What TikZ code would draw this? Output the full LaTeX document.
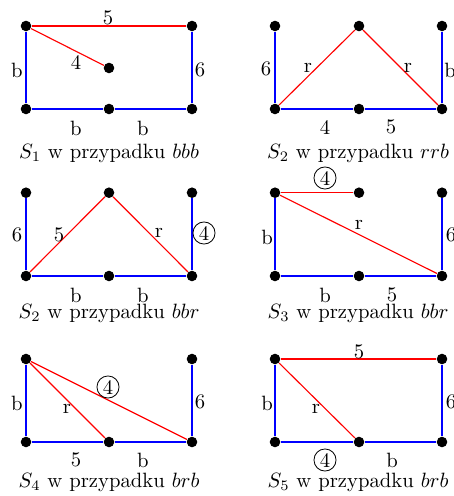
\documentclass[tikz,border=0pt]{standalone}
\begin{document}
\begin{tikzpicture}[x=0.483pt,y=-0.483pt,
  dot/.style={circle,fill=black,inner sep=0pt,minimum size=5.1pt},
  be/.style={blue,line width=0.55pt},
  re/.style={red,line width=0.55pt},
  lab/.style={inner sep=0pt},
  cl/.style={circle,draw,inner sep=0.8pt,line width=0.4pt},
  captext/.style={inner sep=0pt}]
\useasboundingbox (0,0) rectangle (453,496);
% ---------- panel 1
\node[dot] (a1) at (26,26) {};
\node[dot] (a2) at (192,26) {};
\node[dot] (a3) at (109,68) {};
\node[dot] (a4) at (26,109) {};
\node[dot] (a5) at (109,109) {};
\node[dot] (a6) at (192,109) {};
\draw[re] (a1) -- (a2);
\draw[re] (a1) -- (a3);
\draw[be] (a1) -- (a4);
\draw[be] (a2) -- (a6);
\draw[be] (a4) -- (a5);
\draw[be] (a5) -- (a6);
\node[lab] (la1) at (108,18) {5};
\node[lab] (la2) at (76,62) {4};
\node[lab] (la3) at (17,70) {b};
\node[lab] (la4) at (200,70) {6};
\node[lab] (la5) at (76,128) {b};
\node[lab] (la6) at (143,128) {b};
\node[captext] (ca) at (109,153) {$S_1$ w przypadku $bbb$};
% ---------- panel 2
\node[dot] (b1) at (275,26) {};
\node[dot] (b2) at (359,26) {};
\node[dot] (b3) at (442,26) {};
\node[dot] (b4) at (275,109) {};
\node[dot] (b5) at (359,109) {};
\node[dot] (b6) at (442,109) {};
\draw[be] (b1) -- (b4);
\draw[re] (b4) -- (b2);
\draw[re] (b2) -- (b6);
\draw[be] (b3) -- (b6);
\draw[be] (b4) -- (b5);
\draw[be] (b5) -- (b6);
\node[lab] (lb1) at (266,69) {6};
\node[lab] (lb2) at (308,68) {r};
\node[lab] (lb3) at (408,68) {r};
\node[lab] (lb4) at (450,70) {b};
\node[lab] (lb5) at (325,127) {4};
\node[lab] (lb6) at (391,127) {5};
\node[captext] (cb) at (358,153) {$S_2$ w przypadku $rrb$};
% ---------- panel 3
\node[dot] (c1) at (26,192.7) {};
\node[dot] (c2) at (109,192.7) {};
\node[dot] (c3) at (192,192.7) {};
\node[dot] (c4) at (26,276) {};
\node[dot] (c5) at (109,276) {};
\node[dot] (c6) at (192,276) {};
\draw[be] (c1) -- (c4);
\draw[re] (c4) -- (c2);
\draw[re] (c2) -- (c6);
\draw[be] (c3) -- (c6);
\draw[be] (c4) -- (c5);
\draw[be] (c5) -- (c6);
\node[lab] (lc1) at (17,235) {6};
\node[lab] (lc2) at (59,235) {5};
\node[lab] (lc3) at (159,233) {r};
\node[cl] (lc4) at (204,233) {4};
\node[lab] (lc5) at (76,295) {b};
\node[lab] (lc6) at (143,295) {b};
\node[captext] (cc) at (109,313) {$S_2$ w przypadku $bbr$};
% ---------- panel 4
\node[dot] (d1) at (275,192.7) {};
\node[dot] (d2) at (359,192.7) {};
\node[dot] (d3) at (442,192.7) {};
\node[dot] (d4) at (275,276) {};
\node[dot] (d5) at (359,276) {};
\node[dot] (d6) at (442,276) {};
\draw[re] (d1) -- (d2);
\draw[re] (d1) -- (d6);
\draw[be] (d1) -- (d4);
\draw[be] (d3) -- (d6);
\draw[be] (d4) -- (d5);
\draw[be] (d5) -- (d6);
\node[cl] (ld1) at (325,178) {4};
\node[lab] (ld2) at (359,225) {r};
\node[lab] (ld3) at (267,237) {b};
\node[lab] (ld4) at (451,235) {6};
\node[lab] (ld5) at (325,295) {b};
\node[lab] (ld6) at (392,295) {5};
\node[captext] (cd) at (358,313) {$S_3$ w przypadku $bbr$};
% ---------- panel 5
\node[dot] (e1) at (26,359) {};
\node[dot] (e3) at (192,359) {};
\node[dot] (e4) at (26,442) {};
\node[dot] (e5) at (109,442) {};
\node[dot] (e6) at (192,442) {};
\draw[be] (e1) -- (e4);
\draw[re] (e1) -- (e5);
\draw[re] (e1) -- (e6);
\draw[be] (e3) -- (e6);
\draw[be] (e4) -- (e5);
\draw[be] (e5) -- (e6);
\node[lab] (le1) at (17,403) {b};
\node[lab] (le2) at (67,409) {r};
\node[cl] (le3) at (108,387) {4};
\node[lab] (le4) at (200,402) {6};
\node[lab] (le5) at (76,460) {5};
\node[lab] (le6) at (143,460) {b};
\node[captext] (ce) at (109,482) {$S_4$ w przypadku $brb$};
% ---------- panel 6
\node[dot] (f1) at (275,359) {};
\node[dot] (f3) at (442,359) {};
\node[dot] (f4) at (275,442) {};
\node[dot] (f5) at (359,442) {};
\node[dot] (f6) at (442,442) {};
\draw[re] (f1) -- (f3);
\draw[be] (f1) -- (f4);
\draw[re] (f1) -- (f5);
\draw[be] (f3) -- (f6);
\draw[be] (f4) -- (f5);
\draw[be] (f5) -- (f6);
\node[lab] (lf1) at (359,352) {5};
\node[lab] (lf2) at (267,403) {b};
\node[lab] (lf3) at (316,409) {r};
\node[lab] (lf4) at (451,402) {6};
\node[cl] (lf5) at (325,460) {4};
\node[lab] (lf6) at (392,460) {b};
\node[captext] (cf) at (358,482) {$S_5$ w przypadku $brb$};
\end{tikzpicture}
\end{document}
